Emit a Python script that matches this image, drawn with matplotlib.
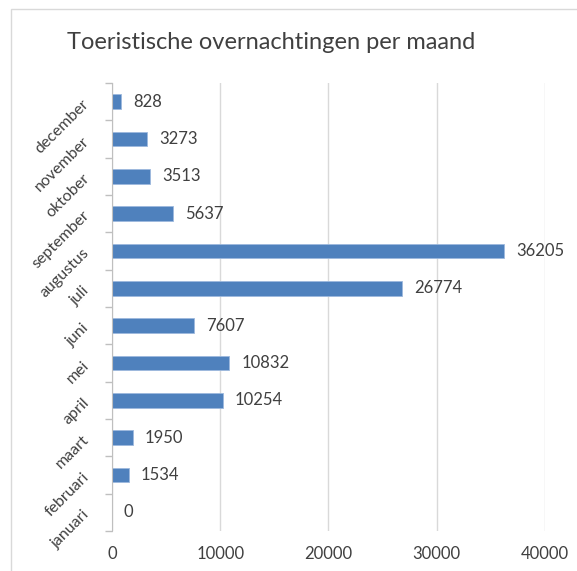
import matplotlib
matplotlib.use("Agg")
import matplotlib.pyplot as plt
import numpy as np
from matplotlib.patches import Rectangle

months = ["januari", "februari", "maart", "april", "mei", "juni", "juli",
          "augustus", "september", "oktober", "november", "december"]
nights = [0, 1534, 1950, 10254, 10832, 7607, 26774, 36205, 5637, 3513, 3273, 828]
xticks = [0, 10000, 20000, 30000, 40000]

plt.rcParams["font.family"] = ["Lato", "DejaVu Sans"]
text_col = "#404040"

fig = plt.figure(figsize=(5.77, 5.71), dpi=100)
ax = fig.add_axes([0.194, 0.070, 0.7505, 0.7846])

# chart-area border (cut off at right / bottom like the screenshot)
fig.patches.append(Rectangle((10.5 / 577, -0.1), 1.2, 1 - 8.5 / 571 + 0.1,
                             transform=fig.transFigure, fill=False,
                             edgecolor="#D9D9D9", linewidth=1.0))

y = np.arange(len(months))
ax.barh(y, nights, height=0.4, color="#4F81BD", edgecolor="#9DB9DD",
        linewidth=0.6, zorder=3)
for yi, v in zip(y, nights):
    ax.annotate(str(v), (v, yi), xytext=(12, 0), textcoords="offset pixels",
                va="center", ha="left", fontsize=12, color=text_col)

ax.set_xlim(0, 40000)
ax.set_ylim(-0.5, len(months) - 0.5)
ax.set_xticks(xticks)
ax.set_xticklabels([str(t) for t in xticks])
ax.tick_params(axis="x", length=0, pad=11, labelsize=12, labelcolor=text_col)
ax.grid(axis="x", color="#D9D9D9", linewidth=1.0, zorder=0)

ax.set_yticks(y)
ax.set_yticklabels(months, rotation=45, ha="right", va="center",
                   rotation_mode="anchor")
ax.set_yticks(np.arange(-0.5, len(months)), minor=True)
ax.tick_params(axis="y", which="major", length=0, pad=18, labelsize=11.5,
               labelcolor=text_col)
ax.tick_params(axis="y", which="minor", length=5, color="#BFBFBF", width=1.0)

for s in ["top", "right", "bottom"]:
    ax.spines[s].set_visible(False)
ax.spines["left"].set_color("#BFBFBF")
ax.spines["left"].set_zorder(4)

fig.text(271 / 577, 0.926, "Toeristische overnachtingen per maand",
         ha="center", va="center", fontsize=17, color=text_col)

fig.savefig("out.png", dpi=100)
